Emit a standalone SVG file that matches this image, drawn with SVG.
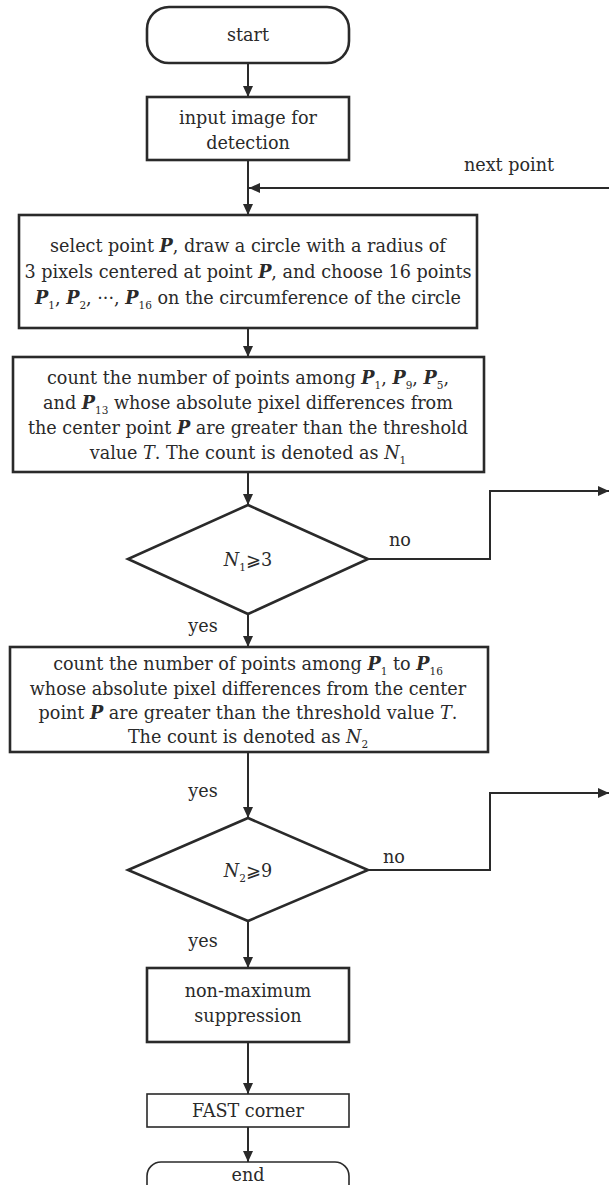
<svg xmlns="http://www.w3.org/2000/svg" width="609" height="1185" viewBox="0 0 609 1185">
<style>
.box{fill:#fff;stroke:#2a2a2a;stroke-width:2.6}
.thin{fill:#fff;stroke:#2a2a2a;stroke-width:1.6}
.con{fill:none;stroke:#2a2a2a;stroke-width:2}
text{font-family:"DejaVu Serif","Liberation Serif",serif;font-size:17.6px;fill:#2a2a2a;text-anchor:middle}
.b{font-weight:bold;font-style:italic}
.i{font-style:italic}
.s{font-size:10.5px}
</style>
<defs>
<marker id="ah" markerUnits="userSpaceOnUse" markerWidth="12" markerHeight="10" refX="11" refY="5" orient="auto">
<path d="M0,0 L11,5 L0,10 Z" fill="#2a2a2a"/>
</marker>
</defs>
<rect width="609" height="1185" fill="#fff"/>
<g id="connectors">
<line class="con" x1="248" y1="63" x2="248" y2="97" marker-end="url(#ah)"/>
<line class="con" x1="248" y1="160" x2="248" y2="215" marker-end="url(#ah)"/>
<line class="con" x1="609" y1="188" x2="249" y2="188" marker-end="url(#ah)"/>
<text x="509" y="171">next point</text>
<line class="con" x1="248" y1="328" x2="248" y2="357" marker-end="url(#ah)"/>
<line class="con" x1="248" y1="472" x2="248" y2="505" marker-end="url(#ah)"/>
<polyline class="con" points="368,559 490,559 490,491 609,491" marker-end="url(#ah)"/>
<text x="400" y="546">no</text>
<line class="con" x1="248" y1="614" x2="248" y2="647" marker-end="url(#ah)"/>
<text x="203" y="632">yes</text>
<line class="con" x1="248" y1="752" x2="248" y2="818" marker-end="url(#ah)"/>
<text x="203" y="797">yes</text>
<polyline class="con" points="368,870 490,870 490,793 609,793" marker-end="url(#ah)"/>
<text x="394" y="863">no</text>
<line class="con" x1="248" y1="921" x2="248" y2="968" marker-end="url(#ah)"/>
<text x="203" y="947">yes</text>
<line class="con" x1="248" y1="1042" x2="248" y2="1094" marker-end="url(#ah)"/>
<line class="con" x1="248" y1="1127" x2="248" y2="1162" marker-end="url(#ah)"/>
</g>
<g id="start">
<rect class="box" x="147" y="7" width="202" height="56" rx="22"/>
<text x="248" y="41">start</text>
</g>
<g id="input">
<rect class="box" x="147" y="97" width="202" height="63"/>
<text x="248" y="124">input image for</text>
<text x="248" y="149">detection</text>
</g>
<g id="select">
<rect class="box" x="19" y="215" width="458" height="113"/>
<text x="248" y="252">select point <tspan class="b">P</tspan>, draw a circle with a radius of</text>
<text x="248" y="278">3 pixels centered at point <tspan class="b">P</tspan>, and choose 16 points</text>
<text x="248" y="304"><tspan class="b">P</tspan><tspan class="s" dy="5">1</tspan><tspan dy="-5">, </tspan><tspan class="b">P</tspan><tspan class="s" dy="5">2</tspan><tspan dy="-5">, ···, </tspan><tspan class="b">P</tspan><tspan class="s" dy="5">16</tspan><tspan dy="-5"> on the circumference of the circle</tspan></text>
</g>
<g id="count1">
<rect class="box" x="13" y="357" width="471" height="115"/>
<text x="248" y="384">count the number of points among <tspan class="b">P</tspan><tspan class="s" dy="5">1</tspan><tspan dy="-5">, </tspan><tspan class="b">P</tspan><tspan class="s" dy="5">9</tspan><tspan dy="-5">, </tspan><tspan class="b">P</tspan><tspan class="s" dy="5">5</tspan><tspan dy="-5">,</tspan></text>
<text x="248" y="409">and <tspan class="b">P</tspan><tspan class="s" dy="5">13</tspan><tspan dy="-5"> whose absolute pixel differences from</tspan></text>
<text x="248" y="434">the center point <tspan class="b">P</tspan> are greater than the threshold</text>
<text x="248" y="459">value <tspan class="i">T</tspan>. The count is denoted as <tspan class="i">N</tspan><tspan class="s" dy="5">1</tspan></text>
</g>
<g id="dec1">
<polygon class="box" points="248,505 368,559 248,614 128,559"/>
<text x="248" y="566"><tspan class="i">N</tspan><tspan class="s" dy="5">1</tspan><tspan dy="-5">⩾3</tspan></text>
</g>
<g id="count2">
<rect class="box" x="10" y="647" width="478" height="105"/>
<text x="248" y="670">count the number of points among <tspan class="b">P</tspan><tspan class="s" dy="5">1</tspan><tspan dy="-5"> to </tspan><tspan class="b">P</tspan><tspan class="s" dy="5">16</tspan></text>
<text x="248" y="695">whose absolute pixel differences from the center</text>
<text x="248" y="719">point <tspan class="b">P</tspan> are greater than the threshold value <tspan class="i">T</tspan>.</text>
<text x="248" y="743">The count is denoted as <tspan class="i">N</tspan><tspan class="s" dy="5">2</tspan></text>
</g>
<g id="dec2">
<polygon class="box" points="248,818 368,870 248,921 128,870"/>
<text x="248" y="877"><tspan class="i">N</tspan><tspan class="s" dy="5">2</tspan><tspan dy="-5">⩾9</tspan></text>
</g>
<g id="nms">
<rect class="box" x="147" y="968" width="202" height="74"/>
<text x="248" y="997">non-maximum</text>
<text x="248" y="1022">suppression</text>
</g>
<g id="fast">
<rect class="thin" x="147" y="1094" width="202" height="33"/>
<text x="248" y="1117">FAST corner</text>
</g>
<g id="end">
<rect class="thin" x="147" y="1162" width="202" height="40" rx="14"/>
<text x="248" y="1181">end</text>
</g>
</svg>
